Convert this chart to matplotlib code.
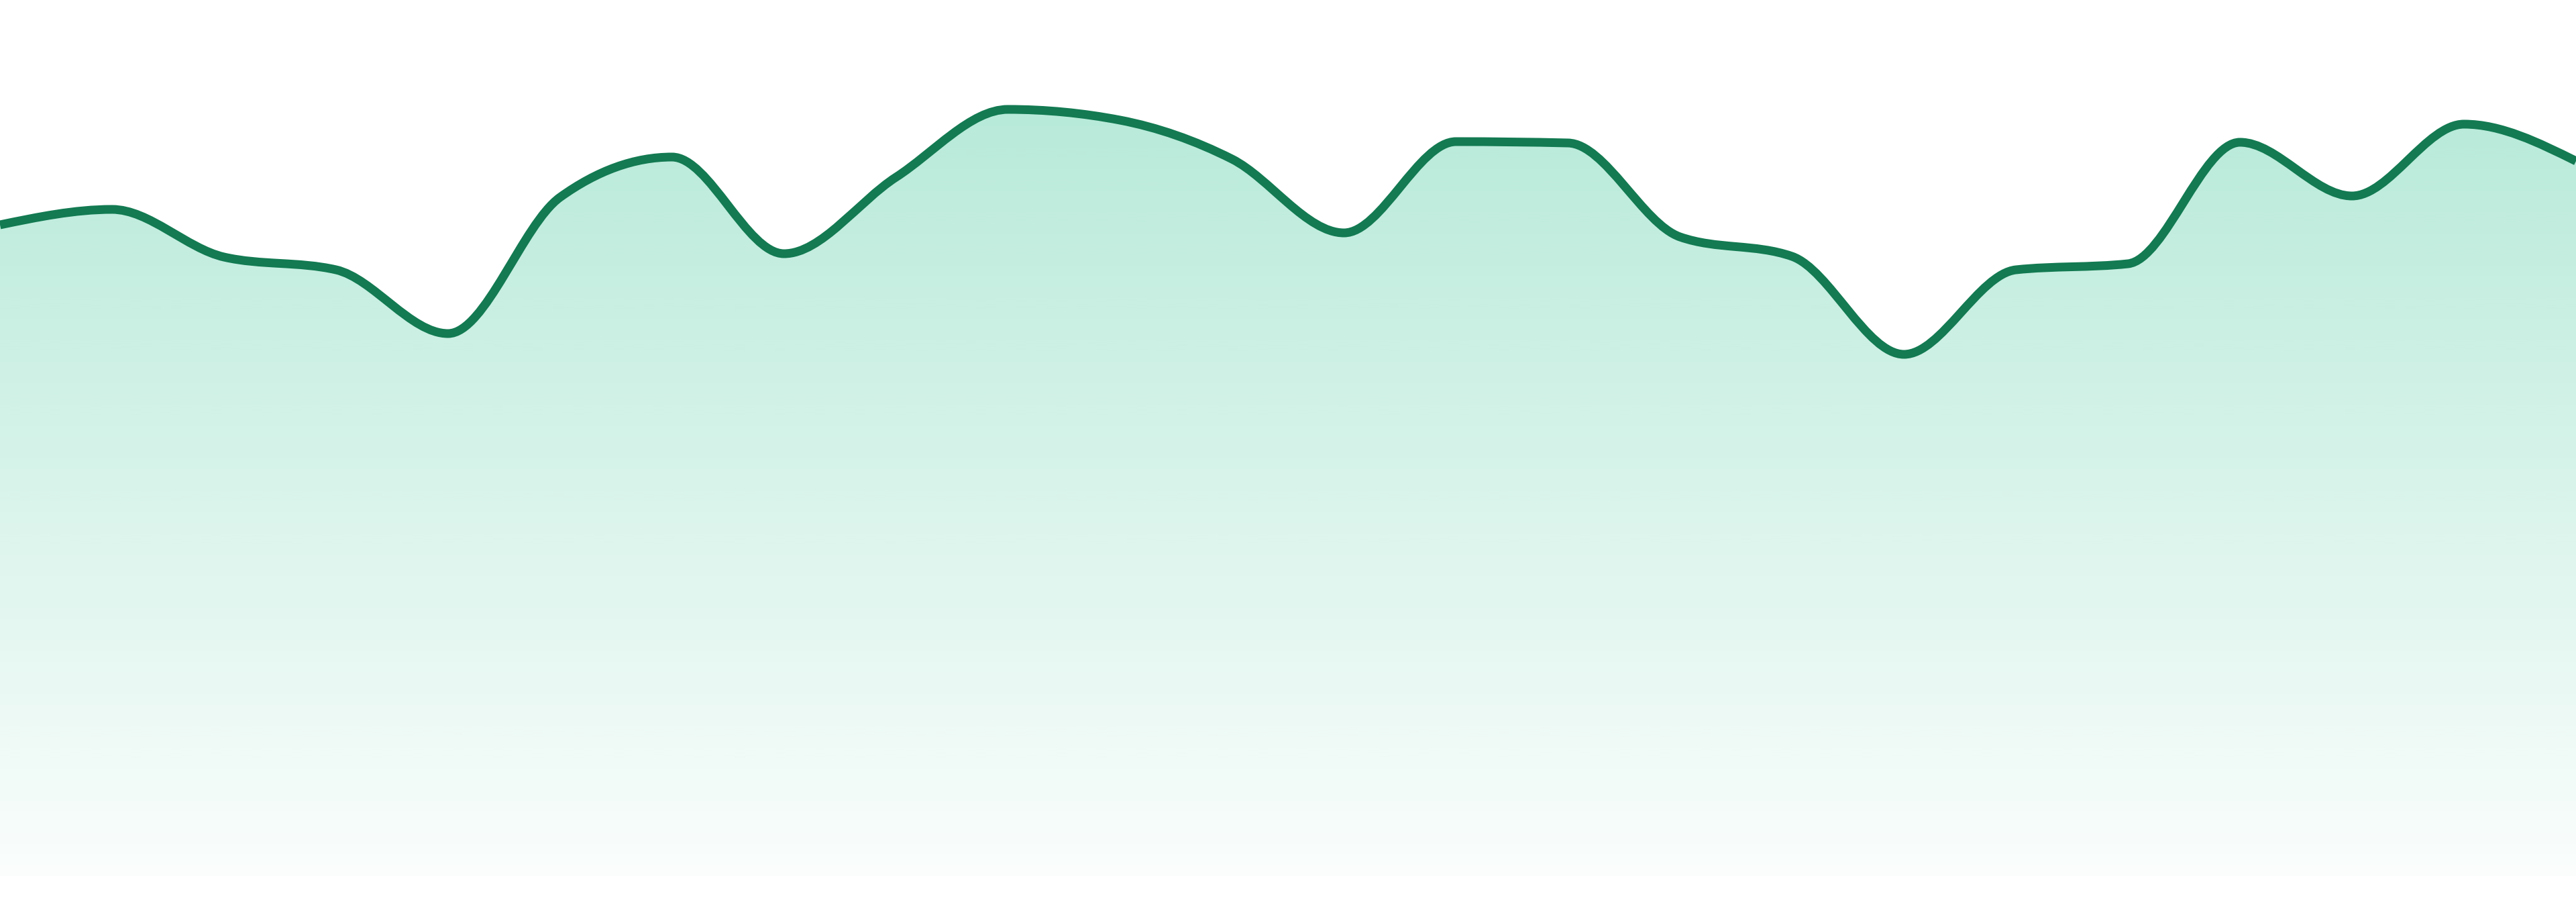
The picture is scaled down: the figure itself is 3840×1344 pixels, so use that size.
import numpy as np
import matplotlib
matplotlib.use('Agg')
import matplotlib.pyplot as plt
from matplotlib.path import Path
from matplotlib.patches import PathPatch

# values (one per step, left edge to right edge)
steps = list(range(24))
values = [97.0, 99.3, 92.2, 90.3, 80.8, 101.1, 107.1, 92.7, 104.1, 114.2, 112.6, 106.8,
          95.8, 109.4, 109.2, 95.2, 92.3, 77.7, 90.3, 91.2, 109.3, 101.3, 112.0, 106.5]

LINE_COLOR = '#137a52'
FILL_COLOR = '#10b981'


def monotone_tangents(x, y):
    # same tangents as d3.curveMonotoneX
    n = len(x)
    t = np.zeros(n)
    for i in range(1, n - 1):
        h0 = x[i] - x[i - 1]
        h1 = x[i + 1] - x[i]
        s0 = (y[i] - y[i - 1]) / h0
        s1 = (y[i + 1] - y[i]) / h1
        p = (s0 * h1 + s1 * h0) / (h0 + h1)
        t[i] = (np.sign(s0) + np.sign(s1)) * min(abs(s0), abs(s1), 0.5 * abs(p))
    t[0] = (3 * (y[1] - y[0]) / (x[1] - x[0]) - t[1]) / 2
    t[-1] = (3 * (y[-1] - y[-2]) / (x[-1] - x[-2]) - t[-2]) / 2
    return t


def curve_path(x, y):
    t = monotone_tangents(x, y)
    verts = [(x[0], y[0])]
    codes = [Path.MOVETO]
    for i in range(len(x) - 1):
        dx = (x[i + 1] - x[i]) / 3
        verts += [(x[i] + dx, y[i] + dx * t[i]),
                  (x[i + 1] - dx, y[i + 1] - dx * t[i + 1]),
                  (x[i + 1], y[i + 1])]
        codes += [Path.CURVE4] * 3
    return verts, codes


x = np.array(steps, dtype=float)
y = np.array(values, dtype=float)
line_verts, line_codes = curve_path(x, y)

fig = plt.figure(figsize=(38.4, 13.44), dpi=100)
ax = fig.add_axes([0, 39 / 1344, 1, 1305 / 1344])
ax.set_xlim(x[0], x[-1])
ax.set_ylim(0, 130.5)
ax.axis('off')

# area under the curve with a vertical fade
area_verts = line_verts + [(x[-1], 0), (x[0], 0), (x[0], y[0])]
area_codes = line_codes + [Path.LINETO, Path.LINETO, Path.CLOSEPOLY]
area = PathPatch(Path(area_verts, area_codes), facecolor='none', edgecolor='none')
ax.add_patch(area)

rgb = matplotlib.colors.to_rgb(FILL_COLOR)
rows = 400
grad = np.zeros((rows, 1, 4))
grad[:, 0, :3] = rgb
levels = np.linspace(y.max(), 0, rows)
grad[:, 0, 3] = 0.02 + 0.28 * np.clip(levels / y.max(), 0, 1)
img = ax.imshow(grad, extent=[x[0], x[-1], 0, y.max()], aspect='auto',
                origin='upper', interpolation='bilinear', zorder=1)
img.set_clip_path(area)

line = PathPatch(Path(line_verts, line_codes), facecolor='none',
                 edgecolor=LINE_COLOR, linewidth=13 * 72 / 100, zorder=2,
                 capstyle='butt', joinstyle='round')
ax.add_patch(line)

fig.savefig('out.png', dpi=100, facecolor='white')
